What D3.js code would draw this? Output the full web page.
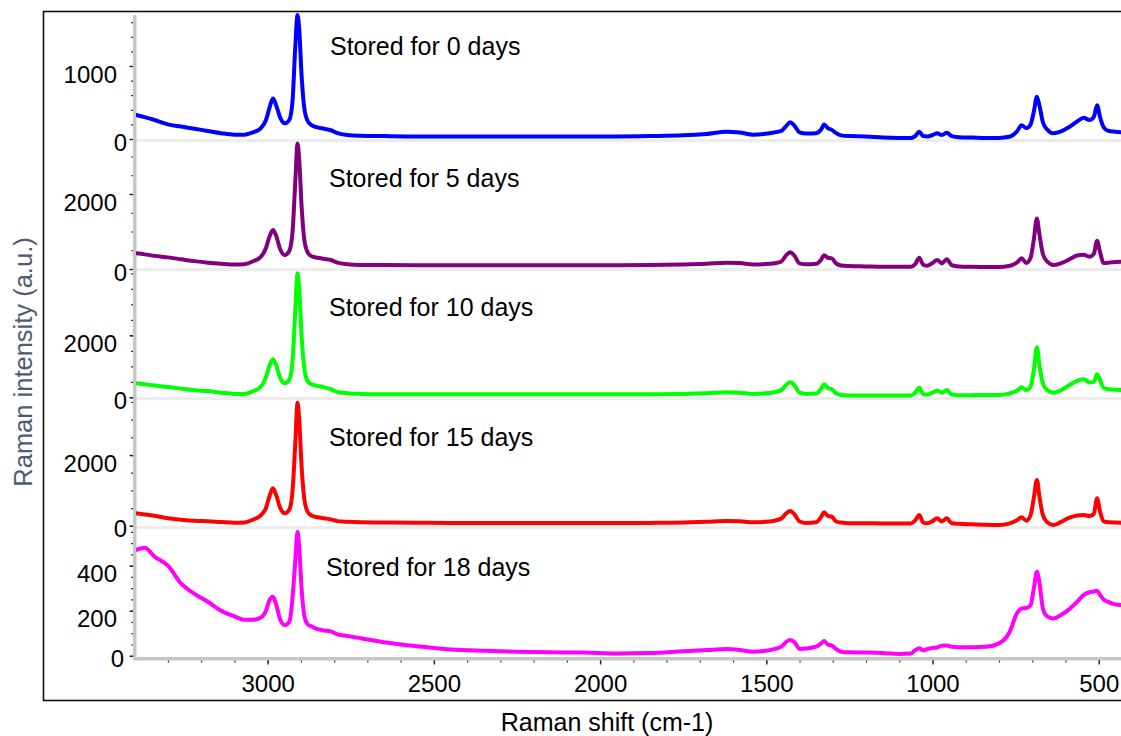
<!DOCTYPE html>
<html><head><meta charset="utf-8">
<script src="https://cdn.jsdelivr.net/npm/d3@7"></script>
<style>body{margin:0;background:#fff;} svg{display:block;font-family:Arial,"Liberation Sans",sans-serif;}</style>
</head><body><svg id="c" width="1121" height="736"></svg>
<script>
// Raman shift grid (cm-1)
const shift = [3396,3370,3340,3300,3260,3220,3180,3140,3100,3070,3045,3020,3005,2995,2984,2975,2962,2948,2935,2925,2917,2910,2905,2898,2890,2880,2868,2850,2830,2810,2790,2760,2720,2650,2550,2450,2350,2250,2150,2050,1950,1850,1750,1680,1620,1580,1540,1490,1455,1440,1428,1415,1400,1380,1350,1335,1326,1315,1303,1290,1275,1250,1200,1150,1100,1065,1052,1040,1028,1015,1000,986,972,957,942,920,880,840,800,770,745,732,718,705,695,686,678,668,655,636,615,590,565,545,528,515,505,496,485,470,450,433];

const day0 = [330,300,260,200,170,140,110,80,60,60,90,150,260,420,555,470,290,215,260,530,1250,1700,1500,880,430,250,190,160,140,120,80,55,45,40,35,35,35,35,35,35,35,40,50,70,100,90,60,80,110,180,229,180,90,75,80,130,200,150,125,80,50,40,35,20,15,15,40,100,40,35,55,78,55,86,40,25,20,15,15,30,110,190,150,200,380,580,450,230,130,78,100,160,240,290,260,300,462,300,160,110,100,92];

const day5 = [418,390,350,310,260,210,170,140,120,130,200,330,560,850,1040,900,520,370,480,1000,2300,3350,2900,1700,800,450,340,300,270,240,170,130,110,105,100,100,100,100,100,100,100,105,120,140,170,160,120,140,200,370,445,350,150,125,140,250,370,300,285,150,95,80,70,60,60,60,130,300,110,90,160,240,150,259,100,70,60,55,55,80,180,285,160,300,800,1350,900,400,200,107,150,250,360,380,330,400,755,450,160,170,190,195];

const day10 = [452,420,380,330,280,230,200,150,110,110,190,350,650,1000,1226,1050,620,450,560,1200,2750,4000,3500,2000,950,520,420,370,320,260,170,130,110,100,95,95,95,95,95,95,95,100,110,130,160,150,110,140,230,400,484,380,150,110,120,280,419,300,258,130,75,60,58,55,55,60,150,310,100,90,150,213,150,235,90,70,70,74,74,120,220,323,235,350,900,1613,1000,450,230,148,220,380,530,581,480,500,742,550,300,260,240,235];

const day15 = [351,320,280,210,170,140,125,105,85,90,170,300,500,820,1058,880,500,350,450,1000,2300,3480,3000,1700,780,400,290,240,210,180,130,110,95,90,85,80,80,80,80,75,75,80,90,110,133,125,95,120,200,350,416,320,120,80,100,250,379,280,255,120,90,70,68,65,65,65,150,303,90,70,130,209,120,209,70,55,40,25,20,60,160,238,142,300,800,1293,800,300,100,20,100,220,290,303,274,330,775,400,120,95,90,85];

const day18 = [470,480,440,400,320,275,240,200,175,160,160,170,200,245,262,230,160,136,150,260,420,551,480,300,180,140,130,118,112,108,95,88,78,60,42,28,22,18,15,14,10,12,20,25,30,26,18,25,40,62,70,60,30,32,40,55,65,50,45,30,18,15,14,12,8,10,25,33,24,30,35,37,45,46,40,38,38,40,55,100,190,210,212,225,300,373,320,210,175,166,180,205,240,270,282,285,289,270,250,238,228,225];

const seriesValues = [day0, day5, day10, day15, day18];
const seriesLabels = ["Stored for 0 days","Stored for 5 days","Stored for 10 days","Stored for 15 days","Stored for 18 days"];
const seriesColors = ["#0000ff","#800080","#00ff00","#ff0000","#ff00ff"];
const yMajorTicks = [[0,1000],[0,2000],[0,2000],[0,2000],[0,200,400]];
const yMinorStep = [200,500,500,500,50];
const yDomains = [[-41,1726],[-53,3387],[-87,4074],[-93,3557],[-10,563]];
const xMajorTicks = [3000,2500,2000,1500,1000,500];
const xTitle = "Raman shift (cm-1)";
const yTitle = "Raman intensity (a.u.)";

const svg = d3.select("#c");
const L = 136, R = 1121;
const panelTop = [13,142,271,400,529];
const panelBottom = [142,271,400,529,658];
const labelPos = [[330,55],[329,187],[329,316],[329,446],[326,576]];
const zeroLabelX = [-6,-6,-6,-6,-9];

const x = d3.scaleLinear().domain([3396,433]).range([L,R]);

// outer frame (right edge beyond canvas)
svg.append("rect").attr("x",43.5).attr("y",11.5).attr("width",1100).attr("height",689)
  .attr("fill","none").attr("stroke","#111").attr("stroke-width",1.6);

svg.append("defs").append("clipPath").attr("id","clip").append("rect")
  .attr("x",L).attr("y",0).attr("width",R-L).attr("height",736);

// panel baselines
for (let i=0;i<4;i++){
  svg.append("rect").attr("x",L).attr("y",panelBottom[i]-3).attr("width",R-L).attr("height",3.2).attr("fill","#ececec");
}
// axis bars
svg.append("rect").attr("x",133).attr("y",15).attr("width",3.5).attr("height",645).attr("fill","#c6c6c6");
svg.append("rect").attr("x",133).attr("y",657).attr("width",R-133).attr("height",3.5).attr("fill","#c6c6c6");

for (let i=0;i<5;i++){
  const y = d3.scaleLinear().domain(yDomains[i]).range([panelBottom[i],panelTop[i]]);
  const maxMinor = Math.floor(yDomains[i][1]/yMinorStep[i])*yMinorStep[i];
  const minor = d3.range(0, maxMinor+1, yMinorStep[i]);
  const gMin = svg.append("g").attr("transform","translate(133,0)")
    .call(d3.axisLeft(y).tickValues(minor).tickSize(2).tickFormat(""));
  gMin.select(".domain").remove();
  gMin.selectAll("line").attr("stroke","#333").attr("stroke-width",1.2);
  const gMaj = svg.append("g").attr("transform","translate(133,0)")
    .call(d3.axisLeft(y).tickValues(yMajorTicks[i]).tickSize(3.5).tickFormat(d3.format("d")));
  gMaj.select(".domain").remove();
  gMaj.selectAll("line").attr("stroke","#222").attr("stroke-width",1.4);
  gMaj.selectAll("text").attr("font-size",24).attr("fill","#000")
    .attr("font-family","Arial, 'Liberation Sans', sans-serif")
    .attr("dy",null)
    .attr("x",d=> d===0 ? zeroLabelX[i] : -16)
    .attr("y",d=> d===0 ? 11 : 16);

  const line = d3.line().x((d,j)=>x(shift[j])).y(d=>y(d)).curve(d3.curveMonotoneX);
  svg.append("path").datum(seriesValues[i]).attr("d",line)
    .attr("clip-path","url(#clip)")
    .attr("fill","none").attr("stroke",seriesColors[i]).attr("stroke-width",4)
    .attr("stroke-linejoin","round").attr("stroke-linecap","round");

  svg.append("text").attr("x",labelPos[i][0]).attr("y",labelPos[i][1])
    .attr("font-size",25).attr("fill","#000").text(seriesLabels[i]);
}

// x axis
const minorX = d3.range(3300, 433, -100);
const gxm = svg.append("g").attr("transform","translate(0,660.5)")
  .call(d3.axisBottom(x).tickValues(minorX).tickSize(2).tickFormat(""));
gxm.select(".domain").remove();
gxm.selectAll("line").attr("stroke","#333").attr("stroke-width",1.2);
const gx = svg.append("g").attr("transform","translate(0,660.5)")
  .call(d3.axisBottom(x).tickValues(xMajorTicks).tickSize(4).tickFormat(d3.format("d")));
gx.select(".domain").remove();
gx.selectAll("line").attr("stroke","#222").attr("stroke-width",1.4);
gx.selectAll("text").attr("font-size",24).attr("fill","#000")
  .attr("font-family","Arial, 'Liberation Sans', sans-serif")
  .attr("dy",null).attr("y",31);

svg.append("text").attr("x",607).attr("y",731).attr("text-anchor","middle")
  .attr("font-size",25).attr("fill","#000").text(xTitle);
svg.append("text").attr("transform","translate(31.5,362) rotate(-90)").attr("text-anchor","middle")
  .attr("font-size",25.5).attr("fill","#4e5b72").text(yTitle);
</script></body></html>
